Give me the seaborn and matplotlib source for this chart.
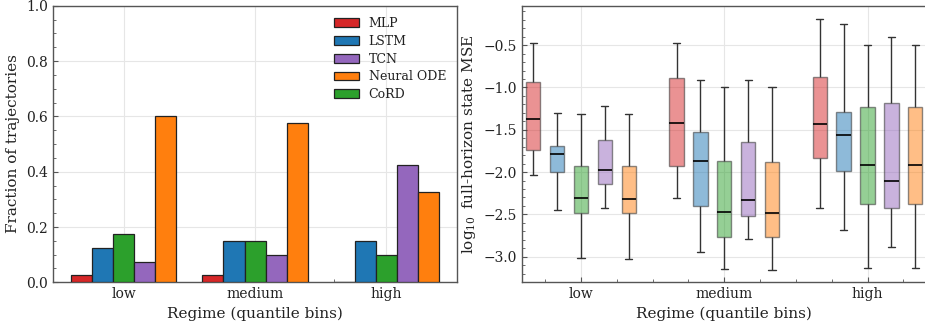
import numpy as np
import pandas as pd
import matplotlib
matplotlib.use("Agg")
import matplotlib.pyplot as plt
import seaborn as sns
from matplotlib.ticker import AutoMinorLocator, MultipleLocator

# ---------------- data ----------------
regimes = ["low", "medium", "high"]
models = ["MLP", "LSTM", "CoRD", "TCN", "Neural ODE"]          # drawing order within a group
legend_order = ["MLP", "LSTM", "TCN", "Neural ODE", "CoRD"]    # legend order
colors = {"MLP": "#d62728", "LSTM": "#1f77b4", "TCN": "#9467bd",
          "Neural ODE": "#ff7f0e", "CoRD": "#2ca02c"}

# fraction of trajectories per regime (low, medium, high)
frac_mlp = [0.025, 0.025, 0.0]
frac_lstm = [0.125, 0.15, 0.15]
frac_cord = [0.175, 0.15, 0.10]
frac_tcn = [0.075, 0.10, 0.425]
frac_node = [0.60, 0.575, 0.325]

# log10 MSE box summaries per regime: [min, q1, median, q3, max]
mse_mlp = [[-2.035, -1.744, -1.378, -0.937, -0.480],
           [-2.311, -1.933, -1.417, -0.890, -0.469],
           [-2.425, -1.839, -1.429, -0.874, -0.189]]
mse_lstm = [[-2.453, -2.004, -1.787, -1.689, -1.303],
            [-2.945, -2.406, -1.866, -1.528, -0.909],
            [-2.689, -1.988, -1.567, -1.287, -0.248]]
mse_cord = [[-3.020, -2.488, -2.311, -1.929, -1.319],
            [-3.150, -2.764, -2.476, -1.874, -0.996],
            [-3.134, -2.374, -1.921, -1.228, -0.504]]
mse_tcn = [[-2.429, -2.146, -1.980, -1.622, -1.217],
           [-2.795, -2.516, -2.327, -1.642, -0.909],
           [-2.882, -2.421, -2.106, -1.181, -0.402]]
mse_node = [[-3.028, -2.488, -2.315, -1.929, -1.319],
            [-3.154, -2.772, -2.484, -1.878, -0.992],
            [-3.138, -2.382, -1.921, -1.228, -0.504]]

frac = {"MLP": frac_mlp, "LSTM": frac_lstm, "CoRD": frac_cord,
        "TCN": frac_tcn, "Neural ODE": frac_node}
mse = {"MLP": mse_mlp, "LSTM": mse_lstm, "CoRD": mse_cord,
       "TCN": mse_tcn, "Neural ODE": mse_node}

bar_rows = [{"regime": r, "model": m, "fraction": frac[m][i]}
            for m in models for i, r in enumerate(regimes)]
df_bar = pd.DataFrame(bar_rows)

box_rows = [{"regime": r, "model": m, "value": v}
            for m in models for i, r in enumerate(regimes) for v in mse[m][i]]
df_box = pd.DataFrame(box_rows)

# ---------------- style ----------------
sns.set_theme(style="white")
plt.rcParams.update({
    "font.family": ["DejaVu Serif"],
    "mathtext.fontset": "dejavuserif",
    "axes.edgecolor": "#555555",
    "axes.linewidth": 1.0,
    "xtick.bottom": True,
    "ytick.left": True,
    "xtick.top": False,
    "ytick.right": False,
    "xtick.direction": "in",
    "ytick.direction": "in",
    "xtick.color": "#555555",
    "ytick.color": "#555555",
    "xtick.labelcolor": "#222222",
    "ytick.labelcolor": "#222222",
    "xtick.major.size": 3.5,
    "ytick.major.size": 3.5,
    "xtick.minor.size": 2,
    "ytick.minor.size": 2,
    "xtick.major.width": 0.8,
    "ytick.major.width": 0.8,
    "xtick.minor.width": 0.6,
    "ytick.minor.width": 0.6,
    "xtick.labelsize": 10,
    "ytick.labelsize": 10,
    "axes.labelsize": 11,
    "axes.labelcolor": "#222222",
    "text.color": "#222222",
})

fig = plt.figure(figsize=(9.25, 3.23), dpi=100)
ax1 = fig.add_axes([0.057, 0.126, 0.4374, 0.856])
ax2 = fig.add_axes([0.564, 0.126, 0.438, 0.856])

# ---------------- left: bars ----------------
sns.barplot(data=df_bar, x="regime", y="fraction", hue="model",
            order=regimes, hue_order=models, palette=colors, saturation=1,
            width=0.8, errorbar=None, edgecolor="#222222", linewidth=0.9,
            ax=ax1, zorder=3)
ax1.set_xlim(-0.54, 2.54)
ax1.set_ylim(0, 1.0)
ax1.yaxis.set_major_locator(MultipleLocator(0.2))
ax1.yaxis.set_minor_locator(AutoMinorLocator(4))
ax1.xaxis.set_minor_locator(AutoMinorLocator(5))
ax1.grid(True, color="#e6e6e6", linewidth=0.8, zorder=0)
ax1.set_axisbelow(True)
ax1.set_xlabel("Regime (quantile bins)")
ax1.set_ylabel("Fraction of trajectories")
h, l = ax1.get_legend_handles_labels()
hm = dict(zip(l, h))
ax1.legend([hm[k] for k in legend_order], legend_order, loc="upper right",
           frameon=False, fontsize=9, handlelength=2.0, labelspacing=0.38,
           handletextpad=0.8)

# ---------------- right: boxes ----------------
sns.boxplot(data=df_box, x="regime", y="value", hue="model",
            order=regimes, hue_order=models, palette=colors, saturation=1,
            width=5 / 6, gap=0.4, whis=(0, 100), showfliers=False,
            linewidth=1.0, linecolor="#333333", legend=False,
            medianprops=dict(color="black", linewidth=1.2),
            ax=ax2)
for p in ax2.patches:
    fc = p.get_facecolor()
    p.set_facecolor((fc[0], fc[1], fc[2], 0.5))
    p.set_edgecolor((0.25, 0.25, 0.25, 0.6))
ax2.set_xlim(-0.414, 2.414)
ax2.set_ylim(-3.303, -0.035)
ax2.yaxis.set_major_locator(MultipleLocator(0.5))
ax2.yaxis.set_minor_locator(AutoMinorLocator(5))
ax2.xaxis.set_minor_locator(AutoMinorLocator(4))
ax2.grid(True, color="#e6e6e6", linewidth=0.8)
ax2.set_axisbelow(True)
ax2.set_xlabel("Regime (quantile bins)")
ax2.set_ylabel(r"$\log_{10}$ full-horizon state MSE")

fig.savefig("out.png", dpi=100)
